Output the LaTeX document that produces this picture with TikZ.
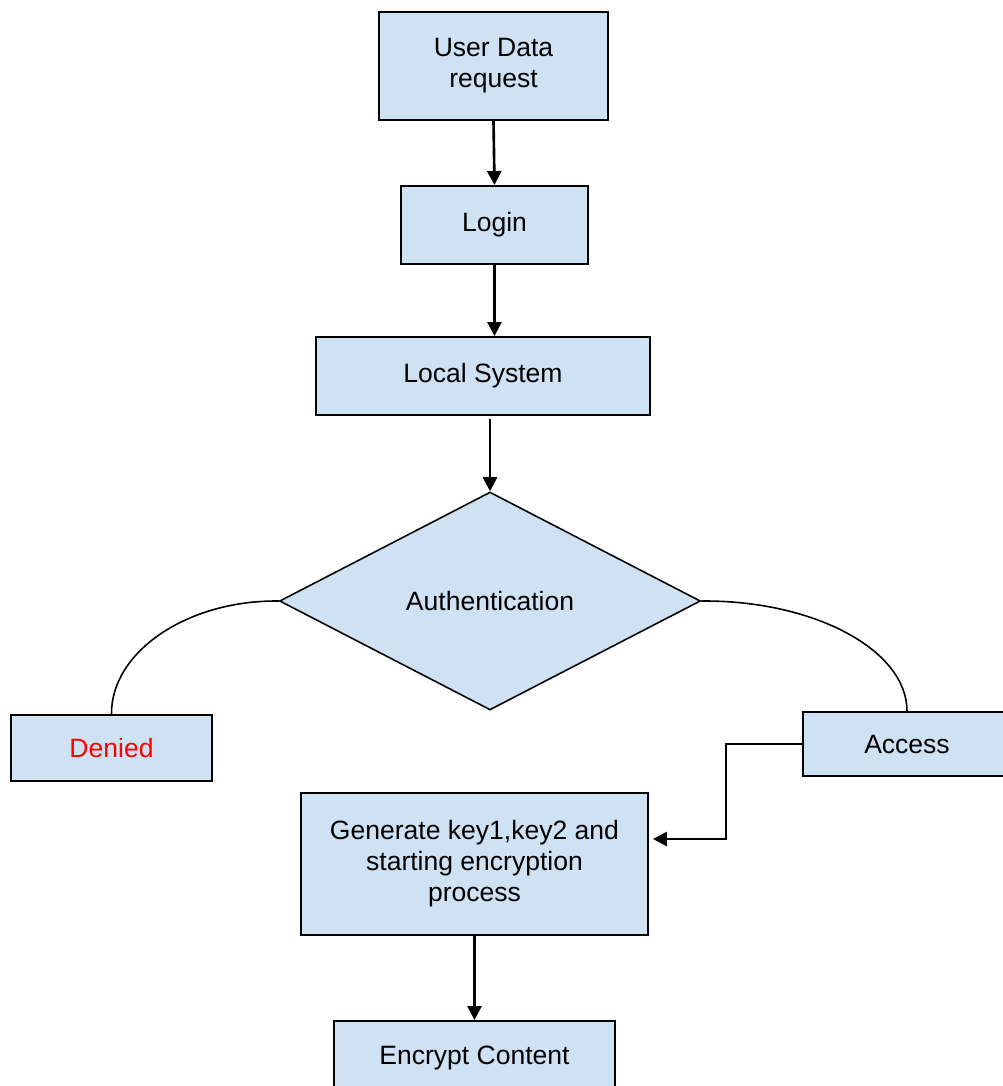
\documentclass[tikz,border=0pt]{standalone}
\usepackage{fontspec}
\setmainfont{Liberation Sans}
\usetikzlibrary{shapes.geometric,arrows.meta}
\definecolor{boxfill}{HTML}{CFE2F3}
\definecolor{deniedred}{HTML}{FF0000}

\tikzset{
  stepbox/.style={draw,line width=1.1pt,fill=boxfill,align=center,
    inner sep=0pt,font=\fontsize{15.1}{17.6}\selectfont},
  decision/.style={diamond,draw,line width=0.9pt,fill=boxfill,inner sep=0pt,
    font=\fontsize{15.1}{17.6}\selectfont},
  arr/.style={line width=1.5pt,-{Triangle[length=0.28cm,width=0.28cm]}},
  link/.style={line width=0.9pt}
}

\begin{document}
\begin{tikzpicture}[x=0.02cm,y=-0.02cm]
\useasboundingbox (0,0) rectangle (1002,1086);

% boxes of the flow
\node[stepbox,minimum width=4.58cm,minimum height=2.16cm] (req) at (493.5,66) {User Data\\request};
\node[stepbox,minimum width=3.74cm,minimum height=1.56cm] (login) at (494.5,225) {Login};
\node[stepbox,minimum width=6.68cm,minimum height=1.56cm] (local) at (483,376) {Local System};
\node[decision,minimum width=8.42cm,minimum height=4.36cm] (auth) at (490,601) {Authentication};
\node[stepbox,minimum width=4.02cm,minimum height=1.32cm,text=deniedred] (denied) at (111.5,748) {Denied};
\node[stepbox,minimum width=4.16cm,minimum height=1.28cm] (access) at (907,744) {Access};
\node[stepbox,minimum width=6.94cm,minimum height=2.84cm] (gen) at (474.5,864) {Generate key1,key2 and\\starting encryption\\process};
\node[stepbox,minimum width=5.62cm,minimum height=1.48cm] (enc) at (474.5,1058) {Encrypt Content};

% arrows
\draw[arr] (req.south) -- (login.north);
\draw[arr] (login.south) -- (login.south |- local.north);
\draw[arr] (auth.north) ++(0,-72) -- (auth.north);
\draw[arr] (gen.south) -- (enc.north);
\draw[arr] (access.west) -- ++(-76,0) |- ([yshift=0.5cm,xshift=0.08cm]gen.east);

% branches of the decision
\draw[link] (auth.west) .. controls (187,600) and (111,652) .. (denied.north);
\draw[link] (auth.east) .. controls (814,600) and (907,650) .. (access.north);
\end{tikzpicture}
\end{document}
